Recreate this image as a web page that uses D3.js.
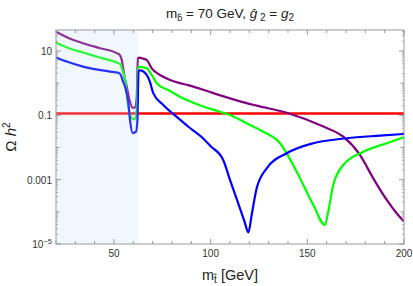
<!DOCTYPE html>
<html>
<head>
<meta charset="utf-8">
<script src="https://cdn.jsdelivr.net/npm/d3@7"></script>
<style>
  body { margin: 0; background: #fff; }
  text { font-family: "Liberation Sans", Arial, sans-serif; }
</style>
</head>
<body>
<div id="chart"></div>
<script>
// relic density vs top-partner mass, three curves + Planck line

// [mass in GeV, omega h^2]
var purpleCurve = [
  [20, 40], [29, 22], [34, 17.5], [42.8, 12.2], [51.4, 8.6], [53, 7.5], [54, 5.3],
  [55.5, 1.5], [56.6, 0.78], [58, 0.3], [59.8, 0.17], [61, 0.18], [61.8, 0.4],
  [62.3, 6.0], [63.1, 6.2], [65, 5.8], [66.9, 5.3], [69.5, 2.9], [73.8, 1.8],
  [79, 1.26], [84.1, 1.0], [88.3, 0.87], [101.4, 0.49], [118.6, 0.24], [123.8, 0.2],
  [139.3, 0.12], [158.3, 0.0446], [168.6, 0.0217], [177.2, 0.0059], [184.1, 0.0011],
  [191.1, 0.000234], [196.2, 0.00009], [200, 0.00005]
];
var greenCurve = [
  [20, 18], [27, 12], [34, 9], [43, 6.2], [51.4, 4.4], [53.5, 3.8], [54, 2.92],
  [55.7, 1.26], [57.4, 0.187], [59.2, 0.081], [60.5, 0.075], [61.4, 0.09], [62, 0.3],
  [62.5, 3.27], [64, 3.2], [66.9, 2.92], [69.5, 1.8], [72.1, 1.0], [79, 0.57],
  [84.1, 0.38], [88.3, 0.29], [95, 0.2], [104.8, 0.13], [110, 0.103], [118.6, 0.057],
  [127.2, 0.031], [135.9, 0.0136], [144.5, 0.00177], [153.1, 0.000163],
  [159.1, 0.000039], [160.8, 0.000101], [163.4, 0.00068], [168.6, 0.00286],
  [179, 0.0074], [191.1, 0.0136], [200, 0.021]
];
var blueCurve = [
  [20, 6.3], [25.5, 4.7], [34, 3.27], [48, 2.3], [52.2, 2.1], [53.5, 1.8], [54.5, 1.2],
  [55.7, 0.78], [57.4, 0.25], [58.3, 0.07], [59.7, 0.028], [61.4, 0.031], [62.1, 0.07],
  [62.7, 2.4], [63.5, 2.5], [66.9, 1.8], [68.6, 1.1], [70.3, 0.49], [75.5, 0.21],
  [82.4, 0.09], [88.3, 0.045], [95, 0.022], [100, 0.011], [106.5, 0.0041],
  [110, 0.00098], [113.5, 0.00025], [117.5, 0.00005], [119.5, 0.000023],
  [121.2, 0.00008], [123.8, 0.00054], [129, 0.00226], [139.3, 0.0066],
  [153.1, 0.0136], [170.4, 0.0194], [187.6, 0.0234], [200, 0.0264]
];

var relicDensity = 0.115;
var shadeRange = [20, 62.5];
var xTickValues = [50, 100, 150, 200];
var yTickValues = [10, 0.1, 0.001, 1e-5];
var yTickLabels = ["10", "0.1", "0.001", "10^-5"];

var svgWidth = 413;
var svgHeight = 286;
var margin = { top: 30, right: 9, bottom: 42, left: 56 };
var width = svgWidth - margin.left - margin.right;
var height = svgHeight - margin.top - margin.bottom;

var svg = d3.select("#chart")
  .append("svg")
  .attr("width", svgWidth)
  .attr("height", svgHeight);

var chartGroup = svg.append("g")
  .attr("transform", `translate(${margin.left}, ${margin.top})`);

var xScale = d3.scaleLinear().domain([20, 200]).range([0, width]);
var yScale = d3.scaleLog().domain([1e-5, 45]).range([height, 0]);

chartGroup.append("clipPath")
  .attr("id", "plotClip")
  .append("rect")
  .attr("width", width)
  .attr("height", height);

var plot = chartGroup.append("g").attr("clip-path", "url(#plotClip)");

var line = d3.line()
  .x(d => xScale(d[0]))
  .y(d => yScale(d[1]))
  .curve(d3.curveMonotoneX);

// relic density line
plot.append("line")
  .attr("x1", 0)
  .attr("x2", width)
  .attr("y1", yScale(relicDensity))
  .attr("y2", yScale(relicDensity))
  .attr("stroke", "#ff0000")
  .attr("stroke-width", 2.5);

var curves = [
  { data: purpleCurve, color: "#800080" },
  { data: greenCurve, color: "#00ff00" },
  { data: blueCurve, color: "#0000ff" }
];

curves.forEach(function(c) {
  plot.append("path")
    .datum(c.data)
    .attr("d", line)
    .attr("fill", "none")
    .attr("stroke", c.color)
    .attr("stroke-width", 2.2)
    .attr("stroke-linejoin", "round");
});

// shaded excluded region, drawn over the curves
plot.append("rect")
  .attr("x", xScale(shadeRange[0]))
  .attr("y", 0)
  .attr("width", xScale(shadeRange[1]) - xScale(shadeRange[0]))
  .attr("height", height)
  .attr("fill", "rgb(190,220,250)")
  .attr("opacity", 0.22);

// frame
var frameColor = "#999";
chartGroup.append("rect")
  .attr("width", width)
  .attr("height", height)
  .attr("fill", "none")
  .attr("stroke", frameColor)
  .attr("stroke-width", 1);

// x ticks (bottom + top), inward
var xMinor = d3.range(20, 201, 10).filter(v => xTickValues.indexOf(v) < 0);
function xTicks(y0, dir) {
  chartGroup.selectAll(null)
    .data(xTickValues)
    .enter().append("line")
    .attr("x1", d => xScale(d)).attr("x2", d => xScale(d))
    .attr("y1", y0).attr("y2", y0 + dir * 5)
    .attr("stroke", frameColor);
  chartGroup.selectAll(null)
    .data(xMinor)
    .enter().append("line")
    .attr("x1", d => xScale(d)).attr("x2", d => xScale(d))
    .attr("y1", y0).attr("y2", y0 + dir * 3)
    .attr("stroke", frameColor);
}
xTicks(height, -1);
xTicks(0, 1);

chartGroup.selectAll(null)
  .data(xTickValues)
  .enter().append("text")
  .attr("x", d => xScale(d))
  .attr("y", height + 13)
  .attr("text-anchor", "middle")
  .attr("font-size", 10)
  .attr("fill", "#333")
  .text(d => d);

// y ticks (left + right), inward
var yMid = [1e-4, 0.01, 1];
var yMinor = [];
for (var e = -5; e < 2; e++) {
  for (var k = 2; k <= 9; k++) {
    var v = k * Math.pow(10, e);
    if (v <= 45) yMinor.push(v);
  }
}
function yTicks(x0, dir) {
  chartGroup.selectAll(null)
    .data(yTickValues)
    .enter().append("line")
    .attr("x1", x0).attr("x2", x0 + dir * 5)
    .attr("y1", d => yScale(d)).attr("y2", d => yScale(d))
    .attr("stroke", frameColor);
  chartGroup.selectAll(null)
    .data(yMid)
    .enter().append("line")
    .attr("x1", x0).attr("x2", x0 + dir * 3.5)
    .attr("y1", d => yScale(d)).attr("y2", d => yScale(d))
    .attr("stroke", frameColor);
  chartGroup.selectAll(null)
    .data(yMinor)
    .enter().append("line")
    .attr("x1", x0).attr("x2", x0 + dir * 2)
    .attr("y1", d => yScale(d)).attr("y2", d => yScale(d))
    .attr("stroke", frameColor)
    .attr("stroke-width", 0.8);
}
yTicks(0, 1);
yTicks(width, -1);

yTickValues.forEach(function(v, i) {
  var t = chartGroup.append("text")
    .attr("x", -4)
    .attr("y", yScale(v) + 4)
    .attr("text-anchor", "end")
    .attr("font-size", 10)
    .attr("fill", "#333");
  var lbl = yTickLabels[i];
  if (lbl.indexOf("^") >= 0) {
    var parts = lbl.split("^");
    t.append("tspan").text(parts[0]);
    t.append("tspan").attr("dy", -4).attr("font-size", 7.5).text(parts[1].replace("-", "\u2212"));
  } else {
    t.text(lbl);
  }
});

// title
var title = svg.append("text")
  .attr("x", margin.left + width / 2)
  .attr("y", 18)
  .attr("text-anchor", "middle")
  .attr("font-size", 13.5)
  .attr("fill", "#222");
title.append("tspan").text("m");
title.append("tspan").attr("dy", 3).attr("font-size", 9).text("b\u0302");
title.append("tspan").attr("dy", -3).text(" = 70 GeV, ");
title.append("tspan").attr("font-style", "italic").text("g\u0302");
title.append("tspan").attr("dy", 3).attr("font-size", 10).text(" 2");
title.append("tspan").attr("dy", -3).text(" = ");
title.append("tspan").attr("font-style", "italic").text("g");
title.append("tspan").attr("dy", 3).attr("font-size", 10).text("2");

// axis labels
var xLabel = svg.append("text")
  .attr("x", margin.left + width / 2)
  .attr("y", 280)
  .attr("text-anchor", "middle")
  .attr("font-size", 14.5)
  .attr("fill", "#222");
xLabel.append("tspan").text("m");
xLabel.append("tspan").attr("dy", 3).attr("font-size", 10).text("t\u0302");
xLabel.append("tspan").attr("dy", -3).text(" [GeV]");

var yLabel = svg.append("text")
  .attr("transform", `translate(16, ${margin.top + height / 2}) rotate(-90)`)
  .attr("text-anchor", "middle")
  .attr("font-size", 15)
  .attr("fill", "#222");
yLabel.append("tspan").text("\u03a9 ");
yLabel.append("tspan").attr("font-style", "italic").text("h");
yLabel.append("tspan").attr("dy", -6).attr("font-size", 10).text("2");
</script>
</body>
</html>
